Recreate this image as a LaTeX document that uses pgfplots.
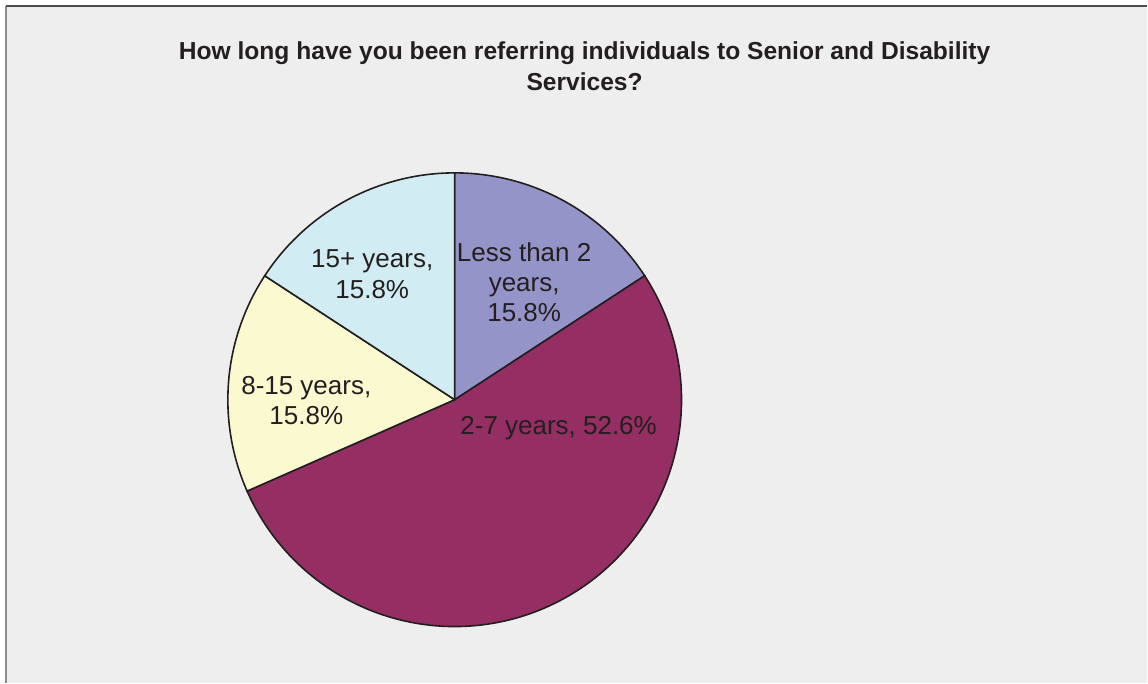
\documentclass[border=0pt]{standalone}
\usepackage{fontspec}
\setmainfont{Liberation Sans}
\usepackage{pgfplots}
\usepackage{pgfplotstable}
\pgfplotsset{compat=1.18}
\definecolor{cA}{HTML}{9594C9}
\definecolor{cB}{HTML}{952E62}
\definecolor{cC}{HTML}{FAF9CF}
\definecolor{cD}{HTML}{D1ECF3}
\definecolor{edge}{HTML}{231F20}
\definecolor{txt}{HTML}{231F20}
\definecolor{bg}{HTML}{EEEEEE}
\pgfplotstableread{
label value
less2 15.8
two7 52.6
eight15 15.8
fifteen 15.8
}\piedata
\pgfplotstablegetelem{0}{value}\of\piedata \let\vA\pgfplotsretval
\pgfplotstablegetelem{1}{value}\of\piedata \let\vB\pgfplotsretval
\pgfplotstablegetelem{2}{value}\of\piedata \let\vC\pgfplotsretval
\pgfplotstablegetelem{3}{value}\of\piedata \let\vD\pgfplotsretval
\pgfmathsetmacro\aZ{90}
\pgfmathsetmacro\aA{\aZ-3.6*\vA}
\pgfmathsetmacro\aB{\aA-3.6*\vB}
\pgfmathsetmacro\aC{\aB-3.6*\vC}
\pgfmathsetmacro\aD{\aC-3.6*\vD}
\begin{document}
\begin{tikzpicture}
\begin{axis}[
  scale only axis, width=1148bp, height=683bp,
  xmin=0, xmax=1148, ymin=0, ymax=683,
  hide axis, clip=false,
]
% background and frame
\fill[white] (axis cs:0,0) rectangle (axis cs:1148,683);
\fill[bg] (axis cs:6,0) rectangle (axis cs:1148,677);
\draw[color=black!45, line width=1.6bp] (axis cs:6,0) -- (axis cs:6,677);
\draw[color=black!70, line width=1.6bp] (axis cs:6,677) -- (axis cs:1148,677);
% pie slices
\addplot[fill=cA, draw=edge, line width=1.6bp, domain=\aZ:\aA, samples=60, variable=\t]
  ({455+227*cos(\t)},{283+227*sin(\t)}) -- (axis cs:455,283) -- cycle;
\addplot[fill=cB, draw=edge, line width=1.6bp, domain=\aA:\aB, samples=160, variable=\t]
  ({455+227*cos(\t)},{283+227*sin(\t)}) -- (axis cs:455,283) -- cycle;
\addplot[fill=cC, draw=edge, line width=1.6bp, domain=\aB:\aC, samples=60, variable=\t]
  ({455+227*cos(\t)},{283+227*sin(\t)}) -- (axis cs:455,283) -- cycle;
\addplot[fill=cD, draw=edge, line width=1.6bp, domain=\aC:\aD, samples=60, variable=\t]
  ({455+227*cos(\t)},{283+227*sin(\t)}) -- (axis cs:455,283) -- cycle;
% labels
\node[text=txt, align=center, font=\fontsize{26bp}{30bp}\selectfont] at (axis cs:524.5,401) {Less than 2\\years,\\15.8\%};
\node[text=txt, align=center, font=\fontsize{26bp}{30bp}\selectfont] at (axis cs:559,255) {2-7 years, 52.6\%};
\node[text=txt, align=center, font=\fontsize{26bp}{30bp}\selectfont] at (axis cs:306.5,282) {8-15 years,\\15.8\%};
\node[text=txt, align=center, font=\fontsize{26bp}{31bp}\selectfont] at (axis cs:372.5,409) {15+ years,\\15.8\%};
% title
\node[text=txt, align=center, font=\fontsize{24.6bp}{31bp}\selectfont\bfseries] at (axis cs:585,617) {How long have you been referring individuals to Senior and Disability\\Services?};
\end{axis}
\end{tikzpicture}
\end{document}
